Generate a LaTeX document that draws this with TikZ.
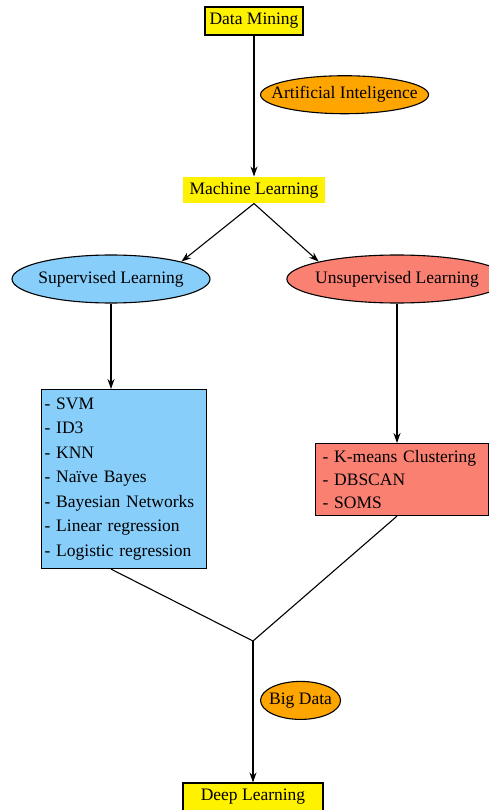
\documentclass[tikz,border=0pt]{standalone}
\usepackage{fontspec}
\setmainfont{Liberation Serif}
\usetikzlibrary{arrows.meta, shapes.geometric}
\definecolor{gvorange}{HTML}{FFA500}
\definecolor{gvblue}{HTML}{87CEFA}
\definecolor{gvsalmon}{HTML}{FA8072}

\begin{document}
\begin{tikzpicture}[x=1pt, y=-1pt, line width=1.1pt, >={Stealth[length=10pt, width=7pt]},
  font=\fontsize{17.5}{24.5}\selectfont,
  ybox/.style={draw, fill=yellow, inner sep=0pt, minimum height=28pt},
  topic/.style={ellipse, draw, inner xsep=-4pt, inner ysep=0pt, minimum width=198pt, minimum height=48pt},
  tag/.style={ellipse, draw, fill=gvorange, inner xsep=-16pt, inner ysep=0pt, minimum height=38pt},
  list/.style={draw, align=left, anchor=north west}]
\useasboundingbox (0,0) rectangle (489,810);
\node[ybox, minimum width=98pt] (dm) at (254,21) {Data Mining};
\node[fill=yellow, inner sep=0pt, minimum width=142pt, minimum height=26pt] (ml) at (254,190) {Machine Learning};
\node[topic, fill=gvblue] (sup) at (111,279) {Supervised Learning};
\node[topic, fill=gvsalmon] (unsup) at (397,279) {Unsupervised Learning};
\node[list, fill=gvblue, inner xsep=3pt, text width=159pt, minimum height=179pt] (svm) at (41,389)
  {- SVM\\- ID3\\- KNN\\- Naïve Bayes\\- Bayesian Networks\\- Linear regression\\- Logistic regression};
\node[list, fill=gvsalmon, inner xsep=7pt, inner ysep=3pt, text width=159pt, minimum height=72pt,
  font=\fontsize{17.5}{23}\selectfont] (km) at (315,443)
  {- K-means Clustering\\- DBSCAN\\- SOMS};
\node[ybox, minimum width=140pt] (dl) at (253,797) {Deep Learning};
\coordinate (j) at (253,641);

\draw [->] (dm) -- (ml) node[tag, pos=.42, anchor=west, xshift=6pt, minimum width=168pt] (ai) {Artificial Inteligence};
\draw [->] (ml.south) -- (sup.north east);
\draw [->] (ml.south) -- (unsup.north west);
\draw [->] (sup) -- (sup |- svm.north);
\draw [->] (unsup) -- (unsup |- km.north);
\draw (sup |- svm.south) -- (j) -- (unsup |- km.south);
\draw [->] (j) -- (dl) node[tag, pos=.42, anchor=west, xshift=7pt, minimum width=80pt] (bd) {Big Data};
\end{tikzpicture}
\end{document}
